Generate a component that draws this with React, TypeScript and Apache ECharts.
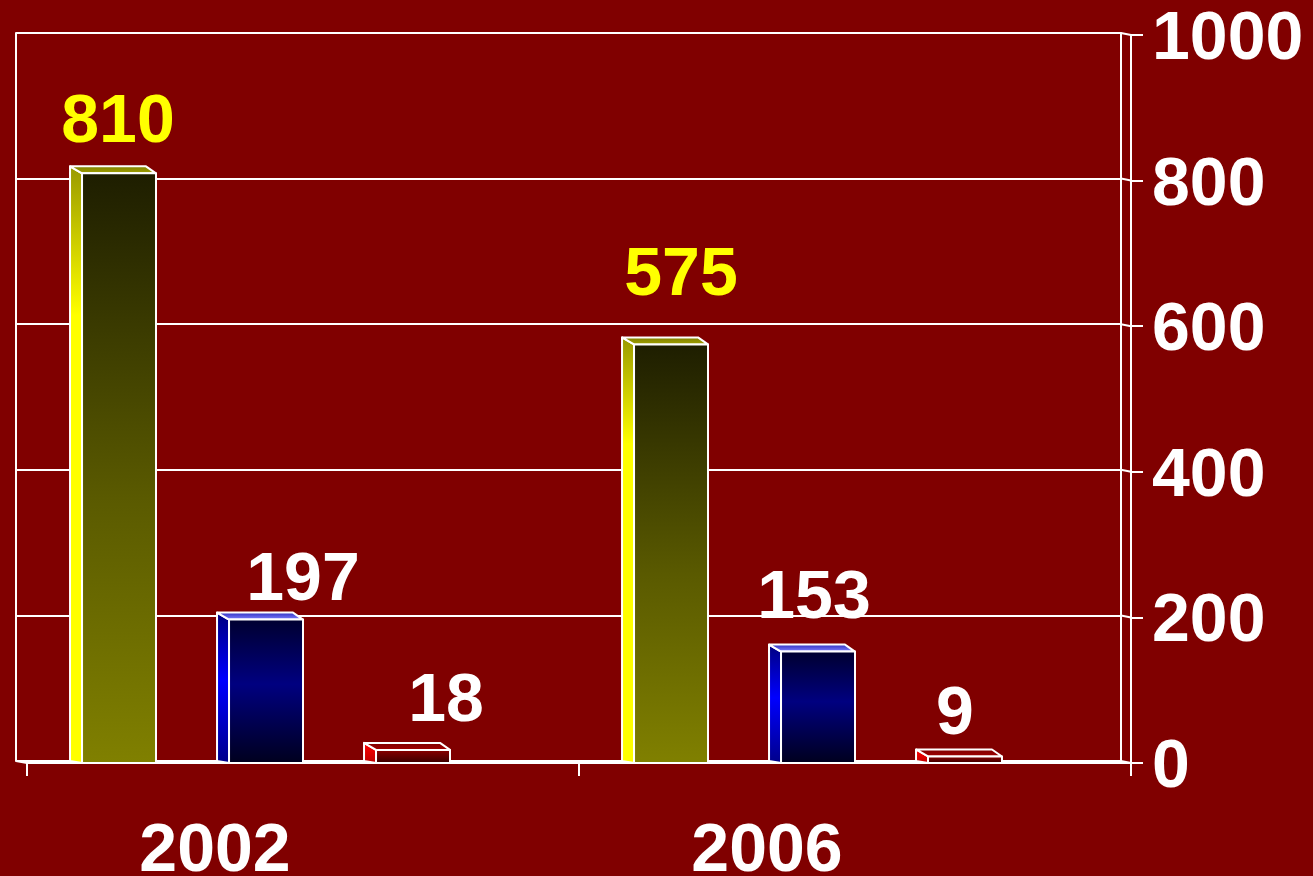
import React, { useEffect, useRef } from "react";
import * as echarts from "echarts";

// ---- data ----
const categories = ["2002", "2006"];
const yellowValues = [810, 575];
const blueValues = [197, 153];
const redValues = [18, 9];
const yMin = 0;
const yMax = 1000;
const yInterval = 200;
const yTickValues = [0, 200, 400, 600, 800, 1000];

// ---- style / layout (not data) ----
const BG = "#800000";
const FONT = "'Liberation Sans', Arial, Helvetica, sans-serif";
const FRONT = { left: 27, right: 182, top: 35, bottom: 113 };
const BACK_DX = -11;
const BACK_DY = -2;
// label nudges [dx, dy] relative to the front-top centre of each bar
const LABEL_NUDGE = [
  [[-1, -55], [10, -73]],
  [[37, -44], [-4, -58]],
  [[33, -53], [-10, -46]],
];

type Palette = {
  front: [number, string][];
  side: [number, string][];
  top: [number, string][];
  label: string;
};

const palettes: Palette[] = [
  {
    front: [[0, "#1e1e00"], [0.55, "#5a5a00"], [1, "#808000"]],
    side: [[0, "#9a9a00"], [0.25, "#ffff00"], [1, "#ffff00"]],
    top: [[0, "#808000"], [1, "#a0a000"]],
    label: "#ffff00",
  },
  {
    front: [[0, "#000030"], [0.45, "#000080"], [1, "#00001e"]],
    side: [[0, "#000080"], [0.45, "#0000ff"], [1, "#00008a"]],
    top: [[0, "#3030c0"], [1, "#8080ff"]],
    label: "#ffffff",
  },
  {
    front: [[0, "#8a0000"], [1, "#3a0000"]],
    side: [[0, "#ff0000"], [1, "#c00000"]],
    top: [[0, "#800000"], [1, "#a00000"]],
    label: "#ffffff",
  },
];

const seriesValues = [yellowValues, blueValues, redValues];

function grad(stops: [number, string][]) {
  return new echarts.graphic.LinearGradient(
    0,
    0,
    0,
    1,
    stops.map(([offset, color]) => ({ offset, color }))
  );
}

function makeBarRender(sIdx: number) {
  const pal = palettes[sIdx];
  return (params: any, api: any) => {
    const catIdx = api.value(0);
    const val = api.value(1);
    const band = api.size([1, 0])[0];
    const base = api.coord([catIdx, 0]);
    const zeroY = base[1];
    const topY = api.coord([catIdx, val])[1];
    const bandStart = base[0] - band / 2;
    const w = band * 0.134;
    const cx = bandStart + band * (0.1667 + sIdx * 0.2663);
    const x0 = cx - w / 2;
    const x1 = cx + w / 2;
    const dx = -12;
    const dy = -7;
    const stroke = { stroke: "#ffffff", lineWidth: 2, lineJoin: "round" };
    const nudge = LABEL_NUDGE[sIdx][params.dataIndex];
    return {
      type: "group",
      children: [
        {
          type: "polygon",
          shape: {
            points: [
              [x0, topY],
              [x0 + dx, topY + dy],
              [x0 + dx, zeroY - 2],
              [x0, zeroY],
            ],
          },
          style: { fill: grad(pal.side), ...stroke },
        },
        {
          type: "polygon",
          shape: {
            points: [
              [x0, topY],
              [x0 + dx, topY + dy],
              [x1 - 10, topY + dy],
              [x1, topY],
            ],
          },
          style: { fill: grad(pal.top), ...stroke },
        },
        {
          type: "rect",
          shape: { x: x0, y: topY, width: w, height: zeroY - topY },
          style: { fill: grad(pal.front), ...stroke },
        },
        {
          type: "text",
          style: {
            text: String(val),
            x: cx + nudge[0],
            y: topY + nudge[1],
            fill: pal.label,
            font: `bold 68px ${FONT}`,
            align: "center",
            verticalAlign: "middle",
          },
        },
      ],
    };
  };
}

function frameRender(params: any, api: any) {
  const v = api.value(0);
  const band = api.size([1, 0])[0];
  const p = api.coord([categories.length - 1, v]);
  const xRight = p[0] + band / 2;
  const y = p[1];
  const children: any[] = [
    {
      type: "line",
      shape: { x1: xRight - 10, y1: y + BACK_DY, x2: xRight, y2: y },
      style: { stroke: "#ffffff", lineWidth: 2 },
    },
  ];
  if (v === yMin) {
    const xLeft = api.coord([0, v])[0] - band / 2;
    children.push({
      type: "line",
      shape: { x1: xLeft + BACK_DX, y1: y + BACK_DY, x2: xLeft, y2: y },
      style: { stroke: "#ffffff", lineWidth: 2 },
    });
  }
  return { type: "group", children };
}

export default function App() {
  const ref = useRef<HTMLDivElement>(null);
  useEffect(() => {
    if (!ref.current) return;
    const chart = echarts.init(ref.current, null, { renderer: "svg" });
    const white = { color: "#ffffff", width: 2 };
    const option: any = {
      animation: false,
      backgroundColor: BG,
      grid: [
        {
          left: FRONT.left + BACK_DX,
          right: FRONT.right + 10,
          top: FRONT.top + BACK_DY,
          bottom: FRONT.bottom + 2,
          containLabel: false,
          outerBoundsMode: "none",
        },
        { ...FRONT, containLabel: false, outerBoundsMode: "none" },
      ],
      xAxis: [
        {
          type: "category",
          gridIndex: 0,
          data: categories,
          show: false,
        },
        {
          type: "category",
          gridIndex: 1,
          data: categories,
          axisLine: { show: true, lineStyle: white },
          axisTick: { show: true, length: 13, lineStyle: white },
          axisLabel: {
            color: "#ffffff",
            fontFamily: FONT,
            fontWeight: "bold",
            fontSize: 68,
            lineHeight: 56,
            margin: 56,
            padding: [0, 176, 0, 0],
          },
        },
      ],
      yAxis: [
        {
          type: "value",
          gridIndex: 0,
          position: "left",
          min: yMin,
          max: yMax,
          interval: yInterval,
          axisLine: { show: true, lineStyle: white },
          axisTick: { show: false },
          axisLabel: { show: false },
          splitLine: { show: true, lineStyle: white },
        },
        {
          type: "value",
          gridIndex: 0,
          position: "right",
          min: yMin,
          max: yMax,
          interval: yInterval,
          axisLine: { show: true, lineStyle: white },
          axisTick: { show: false },
          axisLabel: { show: false },
          splitLine: { show: false },
        },
        {
          type: "value",
          gridIndex: 1,
          position: "right",
          min: yMin,
          max: yMax,
          interval: yInterval,
          axisLine: { show: true, lineStyle: white },
          axisTick: { show: true, inside: false, length: 12, lineStyle: white },
          axisLabel: {
            color: "#ffffff",
            fontFamily: FONT,
            fontWeight: "bold",
            fontSize: 68,
            lineHeight: 60,
            margin: 21,
            formatter: (v: number) => String(v),
          },
          splitLine: { show: false },
        },
      ],
      series: [
        {
          type: "custom",
          name: "frame",
          xAxisIndex: 1,
          yAxisIndex: 2,
          data: yTickValues.map((v) => [v]),
          encode: { y: 0 },
          renderItem: frameRender,
          z: 1,
          silent: true,
        },
        ...seriesValues.map((vals, sIdx) => ({
          type: "custom",
          name: `s${sIdx}`,
          xAxisIndex: 1,
          yAxisIndex: 2,
          data: categories.map((_, i) => [i, vals[i]]),
          encode: { x: 0, y: 1 },
          renderItem: makeBarRender(sIdx),
          z: 3,
        })),
      ],
    };
    chart.setOption(option);
    return () => chart.dispose();
  }, []);
  return (
    <div
      ref={ref}
      style={{ position: "absolute", left: 0, top: 0, width: 1313, height: 876 }}
    />
  );
}
